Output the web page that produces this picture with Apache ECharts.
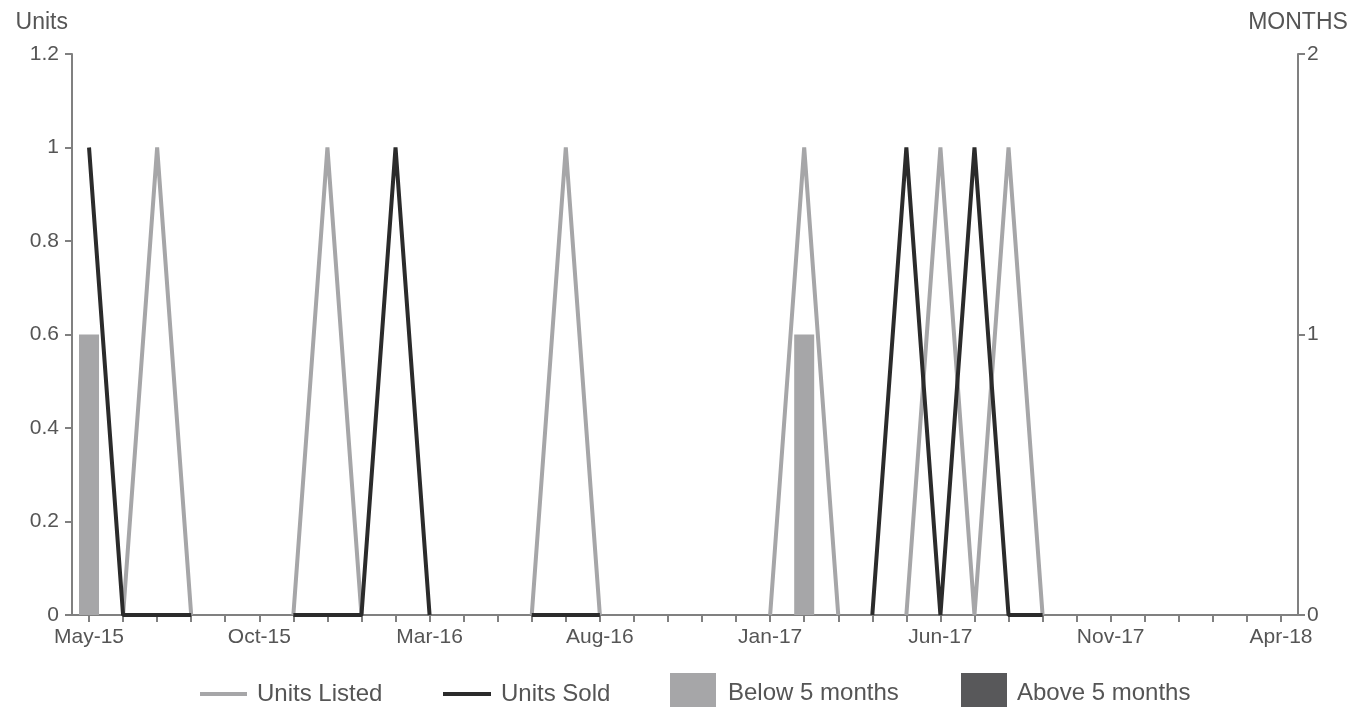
<!DOCTYPE html>
<html>
<head>
<meta charset="utf-8">
<script src="https://cdn.jsdelivr.net/npm/echarts@6/dist/echarts.min.js"></script>
<style>
html,body{margin:0;padding:0;background:#fff;}
#chart{width:1364px;height:707px;}
</style>
</head>
<body>
<div id="chart"></div>
<script>
const months = ['May-15','Jun-15','Jul-15','Aug-15','Sep-15','Oct-15','Nov-15','Dec-15','Jan-16','Feb-16','Mar-16','Apr-16',
  'May-16','Jun-16','Jul-16','Aug-16','Sep-16','Oct-16','Nov-16','Dec-16','Jan-17','Feb-17','Mar-17','Apr-17',
  'May-17','Jun-17','Jul-17','Aug-17','Sep-17','Oct-17','Nov-17','Dec-17','Jan-18','Feb-18','Mar-18','Apr-18'];
const unitsListed = [null,0,1,0,null,null,0,1,0,null,null,null,null,0,1,0,null,null,null,null,0,1,0,null,0,1,0,1,0,null,null,null,null,null,null,null];
const unitsSold   = [1,0,0,0,null,null,0,0,0,1,0,null,null,0,0,0,null,null,null,null,null,null,null,0,1,0,1,0,0,null,null,null,null,null,null,null];
const below5 = [1,null,null,null,null,null,null,null,null,null,null,null,null,null,null,null,null,null,null,null,null,1,null,null,null,null,null,null,null,null,null,null,null,null,null,null];
const above5 = [null,null,null,null,null,null,null,null,null,null,null,null,null,null,null,null,null,null,null,null,null,null,null,null,null,null,null,null,null,null,null,null,null,null,null,null];

const FONT = 'Liberation Sans, Arial, sans-serif';
const TXT = '#555555';
const AX = '#808080';

function legendItem(name, left, top, w, h, gap) {
  return {left: left, top: top, padding: 0, itemWidth: w, itemHeight: h,
    textStyle: {fontFamily: FONT, fontSize: 24, color: TXT, padding: [0, 0, 0, gap]},
    data: [{name: name, icon: 'rect'}]};
}

const chart = echarts.init(document.getElementById('chart'));
chart.setOption({
  animation: false,
  textStyle: {fontFamily: FONT},
  grid: {left: 72, right: 66, top: 54, bottom: 92, containLabel: false},
  legend: [
    legendItem('Units Listed', 200, 682, 47, 4, 5),
    legendItem('Units Sold', 443, 682, 48, 4, 5),
    legendItem('Below 5 months', 670, 673, 46, 40, 7),
    legendItem('Above 5 months', 961, 673, 46, 40, 5)
  ],
  xAxis: {
    type: 'category', data: months, boundaryGap: true,
    axisLine: {show: true, lineStyle: {color: AX, width: 2}},
    axisTick: {show: true, alignWithLabel: true, length: 7, interval: 0, lineStyle: {color: AX, width: 2}},
    axisLabel: {interval: 4, color: TXT, fontSize: 21, fontFamily: FONT, margin: 12},
    splitLine: {show: false}
  },
  yAxis: [
    {type: 'value', min: 0, max: 1.2, interval: 0.2, position: 'left',
     name: 'Units', nameLocation: 'end', nameGap: 20,
     nameTextStyle: {color: TXT, fontSize: 23, fontFamily: FONT, align: 'right', padding: [0, 4, 0, 0]},
     axisLine: {show: true, lineStyle: {color: AX, width: 2}},
     axisTick: {show: true, length: 7, lineStyle: {color: AX, width: 2}},
     axisLabel: {color: TXT, fontSize: 21, fontFamily: FONT, margin: 13,
       formatter: v => String(Math.round(v * 10) / 10)},
     splitLine: {show: false}},
    {type: 'value', min: 0, max: 2, interval: 1, position: 'right',
     name: 'MONTHS', nameLocation: 'end', nameGap: 20,
     nameTextStyle: {color: TXT, fontSize: 23, fontFamily: FONT, align: 'center'},
     axisLine: {show: true, lineStyle: {color: AX, width: 2}},
     axisTick: {show: true, length: 7, lineStyle: {color: AX, width: 2}},
     axisLabel: {color: TXT, fontSize: 21, fontFamily: FONT, margin: 9},
     splitLine: {show: false}}
  ],
  series: [
    {name: 'Below 5 months', type: 'bar', yAxisIndex: 1, data: below5, barWidth: 20, barGap: '-100%',
     itemStyle: {color: '#a6a6a8'}},
    {name: 'Above 5 months', type: 'bar', yAxisIndex: 1, data: above5, barWidth: 20,
     itemStyle: {color: '#58585a'}},
    {name: 'Units Listed', type: 'line', yAxisIndex: 0, data: unitsListed, showSymbol: false, symbol: 'none',
     lineStyle: {color: '#a6a6a8', width: 4}, itemStyle: {color: '#a6a6a8'}},
    {name: 'Units Sold', type: 'line', yAxisIndex: 0, data: unitsSold, showSymbol: false, symbol: 'none',
     lineStyle: {color: '#2b2b2b', width: 4}, itemStyle: {color: '#2b2b2b'}}
  ]
});
</script>
</body>
</html>
